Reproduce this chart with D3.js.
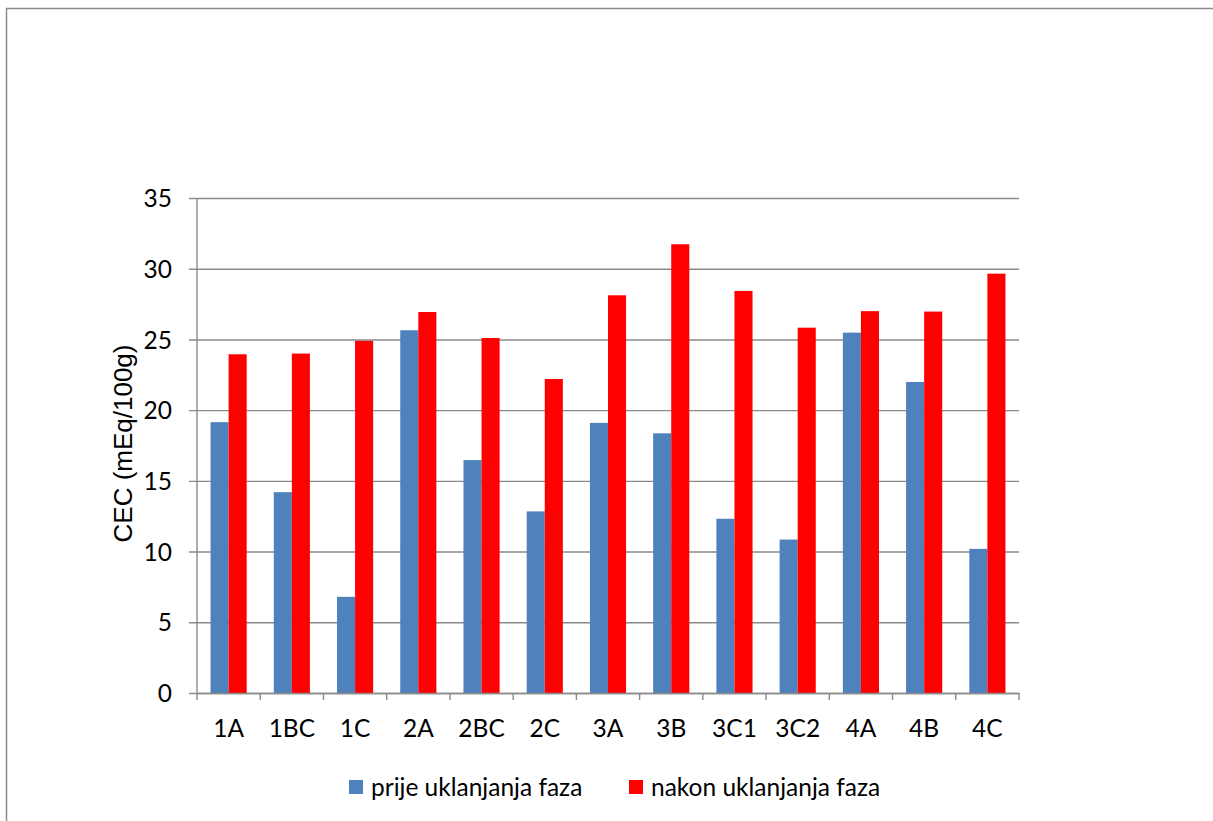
<!DOCTYPE html>
<html>
<head>
<meta charset="utf-8">
<script src="https://cdn.jsdelivr.net/npm/d3@7"></script>
<style>
  html, body { margin: 0; padding: 0; background: #fff; }
  svg { display: block; }
</style>
</head>
<body>
<svg id="chart" width="1213" height="821"></svg>
<script>
const categories = ["1A","1BC","1C","2A","2BC","2C","3A","3B","3C1","3C2","4A","4B","4C"];
const seriesNames = ["prije uklanjanja faza", "nakon uklanjanja faza"];
const prije = [19.15, 14.2, 6.8, 25.65, 16.47, 12.84, 19.1, 18.36, 12.32, 10.85, 25.48, 21.99, 10.19];
const nakon = [23.95, 24.0, 24.9, 26.94, 25.1, 22.2, 28.12, 31.73, 28.43, 25.83, 27.0, 26.97, 29.65];
const yTicks = [0, 5, 10, 15, 20, 25, 30, 35];
const colors = ["#4F81BD", "#FF0000"];
const yTitle = "CEC (mEq/100g)";

const svg = d3.select("#chart");
const tickFont = "Lato, 'Open Sans', sans-serif";
const titleFont = "'Liberation Sans', Arial, sans-serif";
const fs = 24.5;

// outer frame
svg.append("rect")
  .attr("x", 6.5).attr("y", 8.5)
  .attr("width", 1300).attr("height", 900)
  .attr("fill", "none").attr("stroke", "#8a8a8a").attr("stroke-width", 1.5);

const plot = { left: 197, right: 1019, top: 198, bottom: 693 };

const y = d3.scaleLinear().domain([0, 35]).range([plot.bottom, plot.top]);
const x0 = d3.scaleBand().domain(categories).range([plot.left, plot.right])
  .paddingInner(1.5 / 3.5).paddingOuter(0.75 / 3.5);
const x1 = d3.scaleBand().domain(seriesNames).range([0, x0.bandwidth()]);

// gridlines via y axis
const yAxis = d3.axisLeft(y).tickValues(yTicks)
  .tickSize(0).tickFormat(d3.format("d"));
const gy = svg.append("g").attr("transform", `translate(${plot.left},0)`);
gy.call(yAxis);
gy.select(".domain").remove();
gy.selectAll(".tick line")
  .attr("x1", -8).attr("x2", plot.right - plot.left)
  .attr("stroke", "#8a8a8a").attr("stroke-width", 1.4);
gy.selectAll(".tick text")
  .attr("x", -25).attr("dy", "0.35em")
  .attr("font-family", tickFont).attr("font-size", fs).attr("fill", "#000");

// bars
const rows = categories.map((c, i) => ({ cat: c, vals: [prije[i], nakon[i]] }));
const groups = svg.append("g").selectAll("g").data(rows).join("g")
  .attr("transform", d => `translate(${x0(d.cat)},0)`);
groups.selectAll("rect")
  .data(d => d.vals.map((v, k) => ({ name: seriesNames[k], v, k })))
  .join("rect")
  .attr("x", d => x1(d.name))
  .attr("width", x1.bandwidth())
  .attr("y", d => y(d.v))
  .attr("height", d => y(0) - y(d.v))
  .attr("fill", d => colors[d.k]);

// y axis line
svg.append("line")
  .attr("x1", plot.left).attr("x2", plot.left)
  .attr("y1", plot.top).attr("y2", plot.bottom)
  .attr("stroke", "#8a8a8a").attr("stroke-width", 1.4);

// x axis
const xAxis = d3.axisBottom(x0).tickSize(0).tickPadding(44);
const gx = svg.append("g").attr("transform", `translate(0,${plot.bottom})`);
gx.call(xAxis);
gx.select(".domain").attr("stroke", "#8a8a8a").attr("stroke-width", 1.4);
gx.selectAll(".tick text")
  .attr("font-family", tickFont).attr("font-size", fs).attr("fill", "#000")
  .attr("dy", "0");
// category boundary tick marks
const step = x0.step();
const bounds = d3.range(categories.length + 1).map(i => plot.left + i * step);
gx.selectAll("line.bound").data(bounds).join("line")
  .attr("class", "bound")
  .attr("x1", d => d).attr("x2", d => d)
  .attr("y1", 0).attr("y2", 7)
  .attr("stroke", "#8a8a8a").attr("stroke-width", 1.4);

// y title
svg.append("text")
  .attr("transform", `translate(132,${(plot.top + plot.bottom) / 2 - 2}) rotate(-90)`)
  .attr("text-anchor", "middle")
  .attr("font-family", titleFont).attr("font-size", 26).attr("fill", "#000")
  .text(yTitle);

// legend
const legendX = [349, 629];
const lg = svg.append("g").selectAll("g").data(seriesNames).join("g")
  .attr("transform", (d, i) => `translate(${legendX[i]},780)`);
lg.append("rect").attr("width", 14).attr("height", 14).attr("fill", (d, i) => colors[i]);
lg.append("text").attr("x", 22).attr("y", 16)
  .attr("font-family", tickFont).attr("font-size", fs).attr("fill", "#000")
  .text(d => d);
</script>
</body>
</html>
